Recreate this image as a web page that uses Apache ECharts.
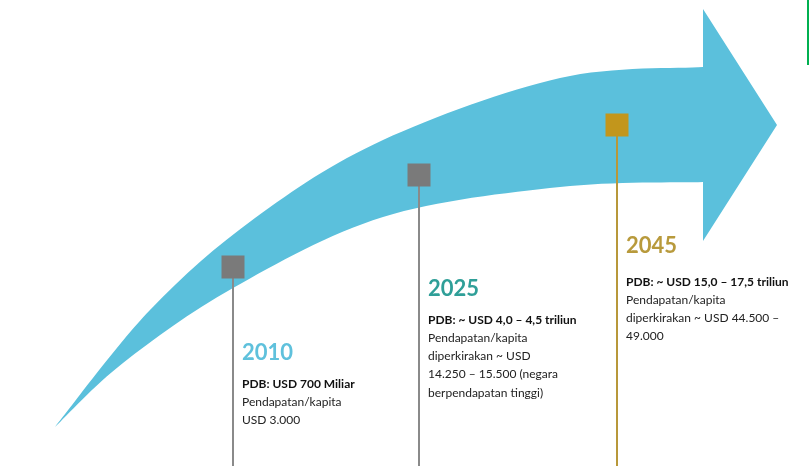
<!DOCTYPE html>
<html><head><meta charset="utf-8">
<script src="https://cdn.jsdelivr.net/npm/echarts@6/dist/echarts.min.js"></script>
<style>html,body{margin:0;padding:0;background:#fff}#c{width:809px;height:472px}</style>
</head><body><div id="c"></div>
<script>
// Milestones along the growth arrow (chart space: x 0..809, y 0..472 top-down)
const years = ['2010', '2025', '2045'];
const milestoneX = [233, 419, 617];
const milestoneY = [267, 175, 125];
const stemEndY = 466;
const yearLabelY = [353, 289, 246];
const pdbLineY = [384, 320, 282];
const pdbText = ['PDB: USD 700 Miliar', 'PDB: ~ USD 4,0 – 4,5 triliun', 'PDB: ~ USD 15,0 – 17,5 triliun'];
const incomeText = [
  ['Pendapatan/kapita', 'USD 3.000'],
  ['Pendapatan/kapita', 'diperkirakan ~ USD', '14.250 – 15.500 (negara', 'berpendapatan tinggi)'],
  ['Pendapatan/kapita', 'diperkirakan ~ USD 44.500 –', '49.000']
];
// Arrow outline
const arrowUpperX = [55, 150, 255, 383, 560, 703];
const arrowUpperY = [427, 310, 218, 140, 78, 67];
const arrowLowerX = [55, 123, 233, 383, 560, 703];
const arrowLowerY = [427, 363, 288, 217, 187, 182];
const arrowHeadX = [703, 777, 703];
const arrowHeadY = [9, 125, 241];

const markerColors = ['#7a7a7a', '#7a7a7a', '#c2961c'];
const stemColors = ['#8a8a8a', '#8a8a8a', '#b8983a'];
const yearColors = ['#5fc1dc', '#2f9f98', '#b89a3c'];
const arrowColor = '#5bc0dc';
const FONT = 'Lato';

function catmullPath(pts, start) {
  let d = (start ? 'M' : 'L') + pts[0][0] + ' ' + pts[0][1];
  for (let i = 0; i < pts.length - 1; i++) {
    const p0 = pts[Math.max(i - 1, 0)], p1 = pts[i], p2 = pts[i + 1], p3 = pts[Math.min(i + 2, pts.length - 1)];
    const c1 = [p1[0] + (p2[0] - p0[0]) / 6, p1[1] + (p2[1] - p0[1]) / 6];
    const c2 = [p2[0] - (p3[0] - p1[0]) / 6, p2[1] - (p3[1] - p1[1]) / 6];
    d += ' C' + c1[0] + ' ' + c1[1] + ' ' + c2[0] + ' ' + c2[1] + ' ' + p2[0] + ' ' + p2[1];
  }
  return d;
}

const chart = echarts.init(document.getElementById('c'), null, { renderer: 'canvas' });
chart.setOption({
  animation: false,
  backgroundColor: '#ffffff',
  grid: { left: 0, right: 0, top: 0, bottom: 0 },
  xAxis: { type: 'value', min: 0, max: 809, show: false },
  yAxis: { type: 'value', min: 0, max: 472, inverse: true, show: false },
  graphic: [{ type: 'rect', right: 0, top: 0, shape: { width: 2, height: 65 }, style: { fill: '#00b050' } }],
  series: [
    {
      type: 'custom', clip: false, z: 1, silent: true,
      data: [0],
      renderItem: function (params, api) {
        const up = arrowUpperX.map((x, i) => api.coord([x, arrowUpperY[i]]));
        const lo = arrowLowerX.map((x, i) => api.coord([x, arrowLowerY[i]])).reverse();
        const hd = arrowHeadX.map((x, i) => api.coord([x, arrowHeadY[i]]));
        let d = catmullPath(up, true);
        hd.forEach(p => { d += ' L' + p[0] + ' ' + p[1]; });
        d += ' ' + catmullPath(lo, false) + ' Z';
        return { type: 'path', shape: { pathData: d }, style: { fill: arrowColor } };
      }
    },
    {
      type: 'custom', clip: false, z: 2, silent: true,
      data: milestoneX.map((x, i) => [x, milestoneY[i], stemEndY]),
      renderItem: function (params, api) {
        const i = params.dataIndex;
        const a = api.coord([api.value(0), api.value(1)]);
        const b = api.coord([api.value(0), api.value(2)]);
        return { type: 'line', shape: { x1: a[0], y1: a[1], x2: b[0], y2: b[1] }, style: { stroke: stemColors[i], lineWidth: 2 } };
      }
    },
    {
      type: 'scatter', z: 3, silent: true,
      symbol: 'rect', symbolSize: 23,
      data: milestoneX.map((x, i) => ({ value: [x, milestoneY[i]], itemStyle: { color: markerColors[i], opacity: 1 } }))
    },
    {
      type: 'custom', clip: false, z: 4, silent: true,
      data: milestoneX.map((x, i) => [x, yearLabelY[i], pdbLineY[i]]),
      renderItem: function (params, api) {
        const i = params.dataIndex;
        const yp = api.coord([api.value(0), api.value(1)]);
        const pp = api.coord([api.value(0), api.value(2)]);
        const left = yp[0] + 9;
        const children = [{
          type: 'text', style: { text: years[i], x: left, y: yp[1], verticalAlign: 'middle', fill: yearColors[i], font: 'bold 22px ' + FONT }
        }, {
          type: 'text', style: { text: pdbText[i], x: left, y: pp[1], verticalAlign: 'middle', fill: '#111', font: 'bold 12px ' + FONT }
        }];
        incomeText[i].forEach((t, k) => {
          children.push({ type: 'text', style: { text: t, x: left, y: pp[1] + 18.2 * (k + 1), verticalAlign: 'middle', fill: '#222', font: '12px ' + FONT } });
        });
        return { type: 'group', children: children };
      }
    }
  ]
});
</script>
</body></html>
